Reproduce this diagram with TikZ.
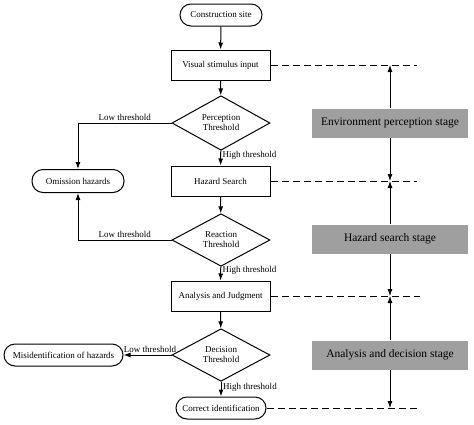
\documentclass[tikz,border=0pt]{standalone}
\usepackage{fontspec}
\setmainfont{Liberation Serif}
\usetikzlibrary{shapes.geometric,arrows.meta}

\tikzset{
  proc/.style={draw, fill=white, minimum width=99pt, minimum height=30pt, inner sep=2pt,
    font=\fontsize{9}{10.5}\selectfont},
  term/.style={draw, fill=white, rounded corners=11pt, minimum height=22pt, inner sep=2pt,
    font=\fontsize{9}{10.5}\selectfont},
  limiar/.style={draw, fill=white, diamond, inner sep=0pt, minimum width=98pt, minimum height=36pt,
    align=center, font=\fontsize{9}{10}\selectfont},
  estagio/.style={fill=gray!75, minimum width=156pt, minimum height=29pt,
    font=\fontsize{11.5}{13}\selectfont},
  rotulo/.style={font=\fontsize{9}{10.5}\selectfont, inner sep=1.5pt},
  seta/.style={-{Latex[length=7pt,width=5pt]}},
  tracejado/.style={dash pattern=on 7pt off 4pt}
}

\begin{document}
\begin{tikzpicture}[x=1pt,y=-1pt,line width=1pt]
\useasboundingbox (0,0) rectangle (474,424);

% fluxo principal
\node[term, minimum width=82pt] (site) at (221,15) {Construction site};
\node[proc] (visual) at (220.5,65) {Visual stimulus input};
\node[limiar] (perc) at (221,123) {Perception\\Threshold};
\node[proc] (hazard) at (220.5,181) {Hazard Search};
\node[term, minimum width=92pt, minimum height=23pt] (omis) at (78,181) {Omission hazards};
\node[limiar] (react) at (221,240) {Reaction\\Threshold};
\node[proc] (analysis) at (220.5,296) {Analysis and Judgment};
\node[limiar] (dec) at (221,355) {Decision\\Threshold};
\node[term, minimum width=119pt] (mis) at (63.5,355) {Misidentification of hazards};
\node[term, minimum width=90pt] (correct) at (221,408) {Correct identification};

% ligações
\draw[seta] (site) -- (visual);
\draw[seta] (visual) -- (perc);
\draw[seta] (perc) -- node[rotulo, right, pos=0.3] {High threshold} (hazard);
\draw[seta] (perc.west) -| node[rotulo, above, pos=0.25] {Low threshold} (omis.north);
\draw[seta] (hazard) -- (react);
\draw[seta] (react.west) -| node[rotulo, above, pos=0.25] {Low threshold} (omis.south);
\draw[seta] (react) -- node[rotulo, right, pos=0.3] {High threshold} (analysis);
\draw[seta] (analysis) -- (dec);
\draw[seta] (dec.west) -- node[rotulo, above, pos=0.45] {Low threshold} (mis.east);
\draw[seta] (dec) -- node[rotulo, right, pos=0.35] {High threshold} (correct);

% estágios
\node[estagio] (env) at (390,123) {Environment perception stage};
\node[estagio] (hs) at (390,239) {Hazard search stage};
\node[estagio] (ad) at (390,355) {Analysis and decision stage};

\coordinate (c1) at (390,65);
\coordinate (c2) at (390,181);
\coordinate (c3) at (390,296);
\coordinate (c4) at (390,408);

\draw[tracejado] (visual.east) -- (417,65);
\draw[tracejado] (hazard.east) -- (417,181);
\draw[tracejado] (analysis.east) -- (420,296);
\draw[tracejado] (correct.east) -- (417,408);

\foreach \e/\a/\b in {env/c1/c2, hs/c2/c3, ad/c3/c4} {
  \draw[seta, line width=0.8pt] (\e.north) -- (\a);
  \draw[seta, line width=0.8pt] (\e.south) -- (\b);
}

\end{tikzpicture}
\end{document}
